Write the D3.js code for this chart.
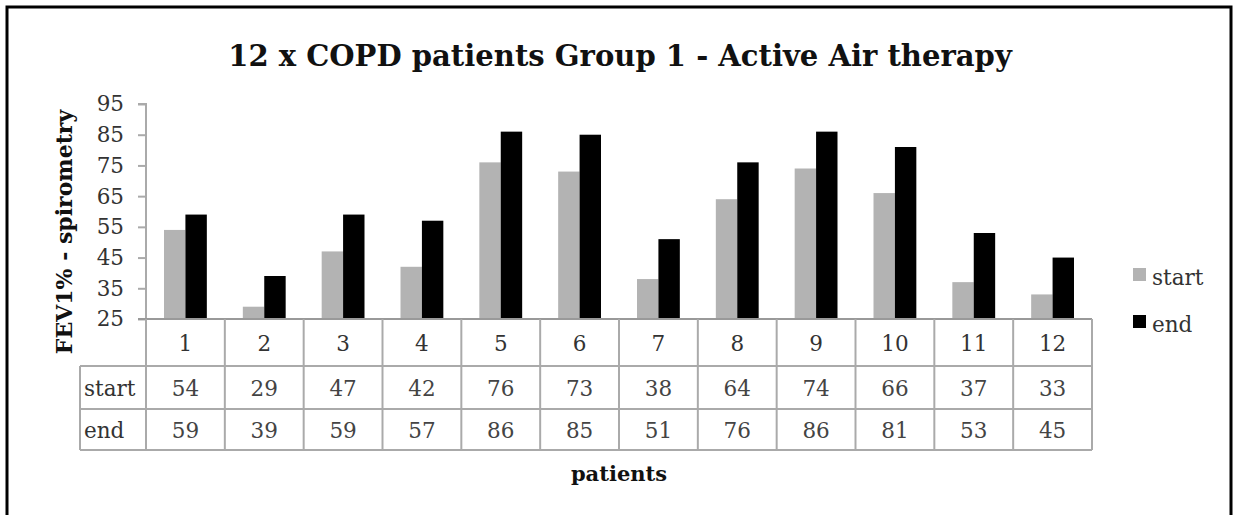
<!DOCTYPE html>
<html><head><meta charset="utf-8">
<script src="https://cdn.jsdelivr.net/npm/d3@7"></script>
<style>body{margin:0;background:#fff}svg{display:block}</style>
</head><body><svg id="c" width="1233" height="515"></svg>
<script>
const categories = ["1","2","3","4","5","6","7","8","9","10","11","12"];
const startValues = [54,29,47,42,76,73,38,64,74,66,37,33];
const endValues = [59,39,59,57,86,85,51,76,86,81,53,45];
const seriesNames = ["start","end"];
const seriesColors = ["#b3b3b3","#000000"];
const yTicks = [25,35,45,55,65,75,85,95];
const titleText = "12 x COPD patients Group 1 - Active Air therapy";
const yLabel = "FEV1% - spirometry";
const xLabel = "patients";

(function(){
const svg = d3.select("#c");
const FONT = "'DejaVu Serif', serif";
const FS = 21.5;
const pL = 146, pR = 1092, pT = 104, pB = 319;

svg.append("rect").attr("x",7).attr("y",7).attr("width",1224).attr("height",530)
  .attr("fill","#fff").attr("stroke","#000").attr("stroke-width",3);

const x0 = d3.scaleBand().domain(categories).range([pL,pR]).padding(0);
const x1 = d3.scaleBand().domain(seriesNames).range([18, x0.bandwidth()-18]).padding(0);
const y = d3.scaleLinear().domain([25,95]).range([pB,pT]);

const t = svg.append("text").attr("x",620).attr("y",66).attr("text-anchor","middle")
  .attr("font-family",FONT).attr("font-weight","bold").attr("font-size",32).attr("fill","#111").text(titleText);
const tw = t.node().getComputedTextLength();
t.attr("font-size", 32*784/tw);

const yAxis = svg.append("g").attr("transform",`translate(${pL},0)`)
  .call(d3.axisLeft(y).tickValues(yTicks).tickSize(8).tickPadding(14));
yAxis.select(".domain").attr("stroke","#aaa").attr("stroke-width",2).attr("d",`M-8,${pT}H0V${pB}`);
yAxis.selectAll(".tick line").attr("stroke","#aaa").attr("stroke-width",2);
yAxis.selectAll(".tick text").attr("font-family",FONT).attr("font-size",FS).attr("fill","#333");

const data = categories.map((c,i)=>({c, vals:[startValues[i], endValues[i]]}));
const g = svg.append("g").selectAll("g").data(data).join("g").attr("transform",d=>`translate(${x0(d.c)},0)`);
g.selectAll("rect").data(d=>d.vals.map((v,j)=>({k:seriesNames[j],v,j}))).join("rect")
  .attr("x",d=>x1(d.k)).attr("width",x1.bandwidth())
  .attr("y",d=>y(d.v)).attr("height",d=>y(25)-y(d.v)).attr("fill",d=>seriesColors[d.j]);

svg.append("line").attr("x1",pL-8).attr("x2",pR).attr("y1",pB).attr("y2",pB).attr("stroke","#999").attr("stroke-width",2);

const rowY = [pB, 366, 409, 450];
const tableLeft = 80;
const lineColor = "#aaa";
const tg = svg.append("g");
[1,2,3].forEach(r=>{
  tg.append("line").attr("x1",tableLeft).attr("x2",pR).attr("y1",rowY[r]).attr("y2",rowY[r]).attr("stroke",lineColor).attr("stroke-width",2);
});
const vx = categories.map(c=>x0(c)).concat([pR]);
tg.selectAll("line.v").data(vx).join("line").attr("class","v")
  .attr("x1",d=>d).attr("x2",d=>d).attr("y1",rowY[0]).attr("y2",rowY[3]).attr("stroke",lineColor).attr("stroke-width",2);
tg.append("line").attr("x1",tableLeft).attr("x2",tableLeft).attr("y1",rowY[1]).attr("y2",rowY[3]).attr("stroke",lineColor).attr("stroke-width",2);

tg.selectAll("text.cat").data(categories).join("text").attr("class","cat")
  .attr("x",d=>x0(d)+x0.bandwidth()/2).attr("y",(rowY[0]+rowY[1])/2+8).attr("text-anchor","middle")
  .attr("font-family",FONT).attr("font-size",FS).attr("fill","#333").text(d=>d);
[startValues,endValues].forEach((vals,r)=>{
  const cy = (rowY[r+1]+rowY[r+2])/2+8;
  tg.append("text").attr("x",tableLeft+4).attr("y",cy).attr("font-family",FONT).attr("font-size",FS).attr("fill","#333").text(seriesNames[r]);
  tg.selectAll("text.r"+r).data(vals).join("text").attr("class","r"+r)
    .attr("x",(d,i)=>x0(categories[i])+x0.bandwidth()/2).attr("y",cy).attr("text-anchor","middle")
    .attr("font-family",FONT).attr("font-size",FS).attr("fill","#444").text(d=>d);
});

svg.append("text").attr("transform","translate(72,232) rotate(-90)").attr("text-anchor","middle")
  .attr("font-family",FONT).attr("font-weight","bold").attr("font-size",22).attr("fill","#111").text(yLabel);
svg.append("text").attr("x",619).attr("y",481).attr("text-anchor","middle")
  .attr("font-family",FONT).attr("font-weight","bold").attr("font-size",21).attr("fill","#111").text(xLabel);

const lg = svg.append("g").attr("transform","translate(1133,268)");
seriesNames.forEach((s,i)=>{
  lg.append("rect").attr("x",0).attr("y",i*47).attr("width",13).attr("height",13).attr("fill",seriesColors[i]);
  lg.append("text").attr("x",19).attr("y",i*47+17).attr("font-family",FONT).attr("font-size",FS).attr("fill","#333").text(s);
});
})();
</script></body></html>
